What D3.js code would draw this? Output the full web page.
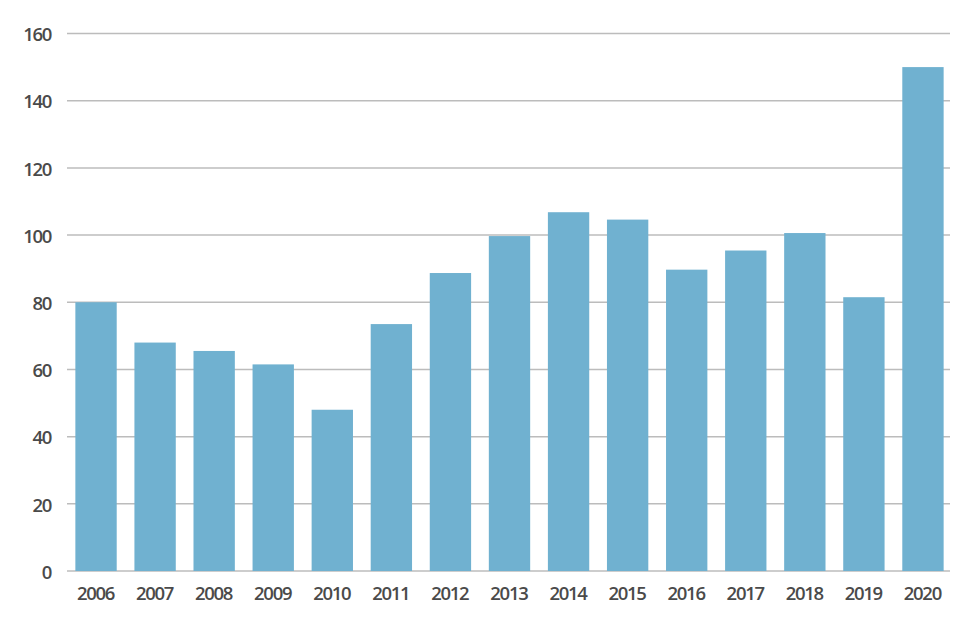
<!DOCTYPE html>
<html>
<head>
<meta charset="utf-8">
<script src="https://cdn.jsdelivr.net/npm/d3@7"></script>
<style>
  body { margin: 0; background: #fff; }
  svg text { font-family: "Open Sans", "DejaVu Sans", sans-serif; }
</style>
</head>
<body>
<svg id="chart" width="960" height="620"></svg>
<script>
const years = ["2006","2007","2008","2009","2010","2011","2012","2013","2014","2015","2016","2017","2018","2019","2020"];
const values = [80, 68, 65.5, 61.5, 48, 73.5, 88.7, 99.7, 106.8, 104.6, 89.7, 95.4, 100.6, 81.5, 150];
const yTicks = [0, 20, 40, 60, 80, 100, 120, 140, 160];

const svg = d3.select("#chart");
const x = d3.scaleBand().domain(years).range([66.5, 952.5]).paddingInner(0.3).paddingOuter(0.15);
const y = d3.scaleLinear().domain([0, 160]).range([571, 33.5]);

// gridlines
svg.append("g").selectAll("line").data(yTicks).join("line")
  .attr("x1", 67).attr("x2", 950)
  .attr("y1", d => y(d)).attr("y2", d => y(d))
  .attr("stroke", "#bcbcbc").attr("stroke-width", 1.5);

// bars
svg.append("g").selectAll("rect").data(years).join("rect")
  .attr("x", d => x(d)).attr("width", x.bandwidth())
  .attr("y", (d, i) => y(values[i]))
  .attr("height", (d, i) => y(0) - y(values[i]))
  .attr("fill", "#70b1d0");

function styleText(sel) {
  sel.attr("fill", "#4a4a4a")
    .attr("font-size", 18.5)
    .attr("font-weight", 600)
    .attr("letter-spacing", "-1.3px")
    .attr("font-family", "'Open Sans', sans-serif");
}

// y axis labels
const yAxis = d3.axisLeft(y).tickValues(yTicks).tickSize(0).tickPadding(0).tickFormat(d3.format("d"));
const gy = svg.append("g").attr("transform", "translate(51,0)").call(yAxis);
gy.select(".domain").remove();
gy.selectAll("text").call(styleText).attr("dy", "0.39em");

// x axis labels
const xAxis = d3.axisBottom(x).tickSize(0).tickPadding(0);
const gx = svg.append("g").attr("transform", "translate(0,587)").call(xAxis);
gx.select(".domain").remove();
gx.selectAll("text").call(styleText).attr("dy", "0.72em").attr("dx", "-0.6px");
</script>
</body>
</html>
